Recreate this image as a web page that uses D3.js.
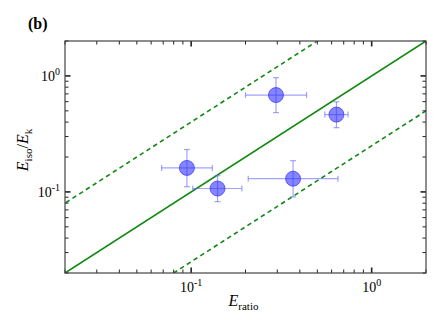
<!DOCTYPE html>
<html>
<head>
<meta charset="utf-8">
<script src="https://d3js.org/d3.v7.min.js"></script>
<style>
  body { margin: 0; background: #fff; }
  text { font-family: "Liberation Serif", "DejaVu Serif", serif; fill: #000; }
  .line { fill: none; stroke: #118811; stroke-width: 1.6px; }
  .err { stroke: #6666ff; stroke-opacity: 0.6; stroke-width: 1.2px; }
</style>
</head>
<body>
<script>
    // data
    let eRatio   = [0.295, 0.638, 0.0947, 0.140, 0.367];
    let eRatioLo = [0.200, 0.550, 0.0686, 0.102, 0.207];
    let eRatioHi = [0.436, 0.740, 0.131, 0.191, 0.651];
    let eIso     = [0.684, 0.464, 0.161, 0.107, 0.130];
    let eIsoLo   = [0.483, 0.358, 0.111, 0.0824, 0.0905];
    let eIsoHi   = [0.966, 0.598, 0.232, 0.138, 0.186];
    // y = k * x reference lines
    let factors  = [1, 4, 0.25];
    let majorTicks = [0.1, 1];
    let tickExp    = ["-1", "0"];

    let margin = {top: 41, right: 17, bottom: 59, left: 65};
    let svgwidth = 443, svgheight = 332;
    let width = svgwidth - margin.left - margin.right;
    let height = svgheight - margin.top - margin.bottom;

    let x = d3.scaleLog().domain([0.02, 2]).range([0, width]);
    let y = d3.scaleLog().domain([0.02, 2]).range([height, 0]);

    let svg = d3.select("body").append("svg")
        .attr("width", svgwidth)
        .attr("height", svgheight);

    svg.append("text")
        .attr("x", 28).attr("y", 29)
        .attr("font-size", 16).attr("font-weight", "bold")
        .text("(b)");

    let g = svg.append("g")
        .attr("transform", "translate(" + margin.left + "," + margin.top + ")");

    let clip = g.append("clipPath").attr("id", "clip")
        .append("rect").attr("width", width).attr("height", height);

    let plot = g.append("g").attr("clip-path", "url(#clip)");

    // reference lines
    let line = d3.line().x(d => x(d[0])).y(d => y(d[1]));
    factors.forEach(function (k) {
        plot.append("path")
            .datum([[0.001, 0.001 * k], [10, 10 * k]])
            .attr("class", "line")
            .attr("stroke-dasharray", k == 1 ? null : "4.5,3.5")
            .attr("d", line);
    });

    let pts = eRatio.map((v, i) => ({
        x: v, xlo: eRatioLo[i], xhi: eRatioHi[i],
        y: eIso[i], ylo: eIsoLo[i], yhi: eIsoHi[i]
    }));

    let cap = 3;
    let eb = plot.selectAll(".eb").data(pts).enter().append("g").attr("class", "eb");
    eb.append("line").attr("class", "err")
        .attr("x1", d => x(d.xlo)).attr("x2", d => x(d.xhi))
        .attr("y1", d => y(d.y)).attr("y2", d => y(d.y));
    eb.append("line").attr("class", "err")
        .attr("x1", d => x(d.x)).attr("x2", d => x(d.x))
        .attr("y1", d => y(d.ylo)).attr("y2", d => y(d.yhi));
    // caps
    eb.append("line").attr("class", "err")
        .attr("x1", d => x(d.xlo)).attr("x2", d => x(d.xlo))
        .attr("y1", d => y(d.y) - cap).attr("y2", d => y(d.y) + cap);
    eb.append("line").attr("class", "err")
        .attr("x1", d => x(d.xhi)).attr("x2", d => x(d.xhi))
        .attr("y1", d => y(d.y) - cap).attr("y2", d => y(d.y) + cap);
    eb.append("line").attr("class", "err")
        .attr("x1", d => x(d.x) - cap).attr("x2", d => x(d.x) + cap)
        .attr("y1", d => y(d.ylo)).attr("y2", d => y(d.ylo));
    eb.append("line").attr("class", "err")
        .attr("x1", d => x(d.x) - cap).attr("x2", d => x(d.x) + cap)
        .attr("y1", d => y(d.yhi)).attr("y2", d => y(d.yhi));
    eb.append("circle")
        .attr("cx", d => x(d.x)).attr("cy", d => y(d.y))
        .attr("r", 7.5)
        .attr("fill", "#3333ff").attr("fill-opacity", 0.6)
        .attr("stroke", "#3333ff").attr("stroke-opacity", 0.7);

    // ticks (inward on all four sides)
    let minor = [];
    [0.01, 0.1, 1].forEach(function (dec) {
        for (let m = 2; m <= 9; m++) {
            let v = dec * m;
            if (v >= 0.02 && v <= 2) minor.push(v);
        }
    });
    let major = majorTicks;

    function ticks(vals, len) {
        vals.forEach(function (v) {
            g.append("line").attr("x1", x(v)).attr("x2", x(v))
                .attr("y1", height).attr("y2", height - len)
                .attr("stroke", "#222").attr("stroke-width", len > 4 ? 1.6 : 1);
            g.append("line").attr("x1", x(v)).attr("x2", x(v))
                .attr("y1", 0).attr("y2", len)
                .attr("stroke", "#222").attr("stroke-width", len > 4 ? 1.6 : 1);
            g.append("line").attr("y1", y(v)).attr("y2", y(v))
                .attr("x1", 0).attr("x2", len)
                .attr("stroke", "#222").attr("stroke-width", len > 4 ? 1.6 : 1);
            g.append("line").attr("y1", y(v)).attr("y2", y(v))
                .attr("x1", width).attr("x2", width - len)
                .attr("stroke", "#222").attr("stroke-width", len > 4 ? 1.6 : 1);
        });
    }
    ticks(minor, 3.5);
    ticks(major, 5.5);

    // frame
    g.append("rect").attr("width", width).attr("height", height)
        .attr("fill", "none").attr("stroke", "#444").attr("stroke-width", 1.2);

    // tick labels
    major.forEach(function (v, i) {
        let tx = g.append("text")
            .attr("x", x(v)).attr("y", height + 19)
            .attr("text-anchor", "middle").attr("font-size", 14);
        tx.append("tspan").text("10");
        tx.append("tspan").attr("font-size", 10).attr("dy", -6).text(tickExp[i]);

        let ty = g.append("text")
            .attr("x", -5).attr("y", y(v) + 5)
            .attr("text-anchor", "end").attr("font-size", 14);
        ty.append("tspan").text("10");
        ty.append("tspan").attr("font-size", 10).attr("dy", -6).text(tickExp[i]);
    });

    // axis labels
    let xl = g.append("text")
        .attr("x", width / 2 - 2).attr("y", height + 33)
        .attr("text-anchor", "middle").attr("font-size", 16);
    xl.append("tspan").attr("font-style", "italic").text("E");
    xl.append("tspan").attr("font-size", 11).attr("dy", 4).text("ratio");

    let yl = g.append("text")
        .attr("transform", "translate(-37," + (height / 2 - 7) + ") rotate(-90)")
        .attr("text-anchor", "middle").attr("font-size", 16);
    yl.append("tspan").attr("font-style", "italic").text("E");
    yl.append("tspan").attr("font-size", 11).attr("dy", 4).text("iso");
    yl.append("tspan").attr("dy", -4).text("/");
    yl.append("tspan").attr("font-style", "italic").text("E");
    yl.append("tspan").attr("font-size", 11).attr("dy", 4).text("k");
</script>
</body>
</html>
